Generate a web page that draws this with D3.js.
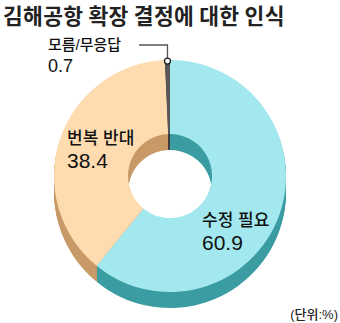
<!DOCTYPE html>
<html>
<head>
<meta charset="utf-8">
<script src="https://cdn.jsdelivr.net/npm/d3@7"></script>
<style>
  body { margin: 0; background: #fff; }
  svg { display: block; }
</style>
</head>
<body>
<div id="chart"></div>
<script>
// data
const categories = ["수정 필요", "번복 반대", "모름/무응답"];
const values = [60.9, 38.4, 0.7];
const topColors = ["#a2e8ee", "#fedcb0", "#575757"];
const sideColors = ["#3b9da2", "#c89a68", "#3c3c3c"];

const width = 340, height = 323;
const cx = 170, cy = 176;
const outerR = 116, innerR = 42, depth = 16;
const font = "'Liberation Sans', 'Noto Sans CJK KR', sans-serif";

let svg = d3.select("#chart").append("svg")
    .attr("width", width)
    .attr("height", height);

let pie = d3.pie().sort(null).value(d => d.value);
let slices = pie(categories.map((c, i) => ({name: c, value: values[i], i: i})));

let arc = d3.arc().innerRadius(innerR).outerRadius(outerR);

// side of the donut: stacked copies shifted downward
let side = svg.append("g");
d3.range(depth, 0, -1).forEach(function(k){
    side.append("g")
        .attr("transform", "translate(" + cx + "," + (cy + k) + ")")
        .selectAll("path")
        .data(slices)
        .enter()
        .append("path")
        .attr("d", arc)
        .style("fill", d => sideColors[d.data.i]);
});

// top face
svg.append("g")
    .attr("transform", "translate(" + cx + "," + cy + ")")
    .selectAll("path")
    .data(slices)
    .enter()
    .append("path")
    .attr("d", arc)
    .style("fill", d => topColors[d.data.i]);

// title
svg.append("text")
    .attr("x", 3)
    .attr("y", 23.5)
    .style("font-family", "'Noto Sans CJK KR', sans-serif")
    .style("font-weight", 700)
    .style("font-size", "21.5px")
    .style("letter-spacing", "0.3px")
    .style("fill", "#222")
    .text("김해공항 확장 결정에 대한 인식");

// leader line for the small slice
let small = slices[2];
let tipAngle = (small.startAngle + small.endAngle) / 2;
let tipX = cx + Math.sin(tipAngle) * (outerR - 1);
let tipY = cy - Math.cos(tipAngle) * (outerR - 1);
svg.append("path")
    .attr("d", "M139,45 H" + tipX + " V" + tipY)
    .style("fill", "none")
    .style("stroke", "#555")
    .style("stroke-width", 1.3);
svg.append("circle")
    .attr("cx", tipX)
    .attr("cy", tipY)
    .attr("r", 3)
    .style("fill", "#fff")
    .style("stroke", "#222")
    .style("stroke-width", 1.3);

// labels
let labels = [
    {i: 2, x: 48, y: 50, nameSize: 15, valSize: 18, gap: 22},
    {i: 1, x: 67, y: 144, nameSize: 17, valSize: 21, gap: 24},
    {i: 0, x: 202, y: 226, nameSize: 17, valSize: 21, gap: 24}
];
labels.forEach(function(l){
    svg.append("text")
        .attr("x", l.x)
        .attr("y", l.y)
        .style("font-family", font)
        .style("font-weight", 500)
        .style("font-size", l.nameSize + "px")
        .style("fill", "#111")
        .text(categories[l.i]);
    svg.append("text")
        .attr("x", l.x)
        .attr("y", l.y + l.gap)
        .style("font-family", font)
        .style("font-size", l.valSize + "px")
        .style("fill", "#111")
        .text(values[l.i].toFixed(1));
});

// unit
svg.append("text")
    .attr("x", 338)
    .attr("y", 319)
    .attr("text-anchor", "end")
    .style("font-family", font)
    .style("font-weight", 500)
    .style("font-size", "13px")
    .style("fill", "#222")
    .text("(단위:%)");
</script>
</body>
</html>
